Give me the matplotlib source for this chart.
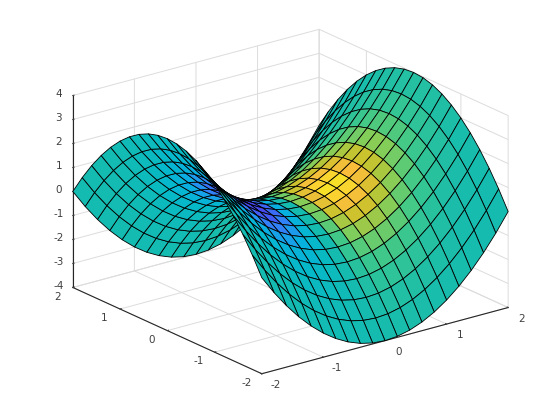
import numpy as np
import matplotlib
matplotlib.use('Agg')
import matplotlib.pyplot as plt
from matplotlib.colors import LinearSegmentedColormap, Normalize
from matplotlib.text import Text
from matplotlib.transforms import offset_copy

# grid
x_vals = [-2, -1.8, -1.6, -1.4, -1.2, -1, -0.8, -0.6, -0.4, -0.2, 0, 0.2, 0.4, 0.6, 0.8, 1, 1.2, 1.4, 1.6, 1.8, 2]
y_vals = [-2, -1.8, -1.6, -1.4, -1.2, -1, -0.8, -0.6, -0.4, -0.2, 0, 0.2, 0.4, 0.6, 0.8, 1, 1.2, 1.4, 1.6, 1.8, 2]

# surface height, one row per y value
z_rows = [
    [0, -0.76, -1.44, -2.04, -2.56, -3, -3.36, -3.64, -3.84, -3.96, -4, -3.96, -3.84, -3.64, -3.36, -3, -2.56, -2.04, -1.44, -0.76, 0],
    [0.76, 0, -0.68, -1.28, -1.8, -2.24, -2.6, -2.88, -3.08, -3.2, -3.24, -3.2, -3.08, -2.88, -2.6, -2.24, -1.8, -1.28, -0.68, 0, 0.76],
    [1.44, 0.68, 0, -0.6, -1.12, -1.56, -1.92, -2.2, -2.4, -2.52, -2.56, -2.52, -2.4, -2.2, -1.92, -1.56, -1.12, -0.6, 0, 0.68, 1.44],
    [2.04, 1.28, 0.6, 0, -0.52, -0.96, -1.32, -1.6, -1.8, -1.92, -1.96, -1.92, -1.8, -1.6, -1.32, -0.96, -0.52, 0, 0.6, 1.28, 2.04],
    [2.56, 1.8, 1.12, 0.52, 0, -0.44, -0.8, -1.08, -1.28, -1.4, -1.44, -1.4, -1.28, -1.08, -0.8, -0.44, 0, 0.52, 1.12, 1.8, 2.56],
    [3, 2.24, 1.56, 0.96, 0.44, 0, -0.36, -0.64, -0.84, -0.96, -1, -0.96, -0.84, -0.64, -0.36, 0, 0.44, 0.96, 1.56, 2.24, 3],
    [3.36, 2.6, 1.92, 1.32, 0.8, 0.36, 0, -0.28, -0.48, -0.6, -0.64, -0.6, -0.48, -0.28, 0, 0.36, 0.8, 1.32, 1.92, 2.6, 3.36],
    [3.64, 2.88, 2.2, 1.6, 1.08, 0.64, 0.28, 0, -0.2, -0.32, -0.36, -0.32, -0.2, 0, 0.28, 0.64, 1.08, 1.6, 2.2, 2.88, 3.64],
    [3.84, 3.08, 2.4, 1.8, 1.28, 0.84, 0.48, 0.2, 0, -0.12, -0.16, -0.12, 0, 0.2, 0.48, 0.84, 1.28, 1.8, 2.4, 3.08, 3.84],
    [3.96, 3.2, 2.52, 1.92, 1.4, 0.96, 0.6, 0.32, 0.12, 0, -0.04, 0, 0.12, 0.32, 0.6, 0.96, 1.4, 1.92, 2.52, 3.2, 3.96],
    [4, 3.24, 2.56, 1.96, 1.44, 1, 0.64, 0.36, 0.16, 0.04, 0, 0.04, 0.16, 0.36, 0.64, 1, 1.44, 1.96, 2.56, 3.24, 4],
    [3.96, 3.2, 2.52, 1.92, 1.4, 0.96, 0.6, 0.32, 0.12, 0, -0.04, 0, 0.12, 0.32, 0.6, 0.96, 1.4, 1.92, 2.52, 3.2, 3.96],
    [3.84, 3.08, 2.4, 1.8, 1.28, 0.84, 0.48, 0.2, 0, -0.12, -0.16, -0.12, 0, 0.2, 0.48, 0.84, 1.28, 1.8, 2.4, 3.08, 3.84],
    [3.64, 2.88, 2.2, 1.6, 1.08, 0.64, 0.28, 0, -0.2, -0.32, -0.36, -0.32, -0.2, 0, 0.28, 0.64, 1.08, 1.6, 2.2, 2.88, 3.64],
    [3.36, 2.6, 1.92, 1.32, 0.8, 0.36, 0, -0.28, -0.48, -0.6, -0.64, -0.6, -0.48, -0.28, 0, 0.36, 0.8, 1.32, 1.92, 2.6, 3.36],
    [3, 2.24, 1.56, 0.96, 0.44, 0, -0.36, -0.64, -0.84, -0.96, -1, -0.96, -0.84, -0.64, -0.36, 0, 0.44, 0.96, 1.56, 2.24, 3],
    [2.56, 1.8, 1.12, 0.52, 0, -0.44, -0.8, -1.08, -1.28, -1.4, -1.44, -1.4, -1.28, -1.08, -0.8, -0.44, 0, 0.52, 1.12, 1.8, 2.56],
    [2.04, 1.28, 0.6, 0, -0.52, -0.96, -1.32, -1.6, -1.8, -1.92, -1.96, -1.92, -1.8, -1.6, -1.32, -0.96, -0.52, 0, 0.6, 1.28, 2.04],
    [1.44, 0.68, 0, -0.6, -1.12, -1.56, -1.92, -2.2, -2.4, -2.52, -2.56, -2.52, -2.4, -2.2, -1.92, -1.56, -1.12, -0.6, 0, 0.68, 1.44],
    [0.76, 0, -0.68, -1.28, -1.8, -2.24, -2.6, -2.88, -3.08, -3.2, -3.24, -3.2, -3.08, -2.88, -2.6, -2.24, -1.8, -1.28, -0.68, 0, 0.76],
    [0, -0.76, -1.44, -2.04, -2.56, -3, -3.36, -3.64, -3.84, -3.96, -4, -3.96, -3.84, -3.64, -3.36, -3, -2.56, -2.04, -1.44, -0.76, 0],
]

# colour value of each cell corner
c_rows = [
    [-0.001, -0.001, -0.002, -0.004, -0.005, -0.007, -0.008, -0.008, -0.006, -0.004, 0, 0.004, 0.006, 0.008, 0.008, 0.007, 0.005, 0.004, 0.002, 0.001, 0.001],
    [-0.001, -0.003, -0.005, -0.008, -0.011, -0.014, -0.017, -0.016, -0.013, -0.008, 0, 0.008, 0.013, 0.016, 0.017, 0.014, 0.011, 0.008, 0.005, 0.003, 0.001],
    [-0.003, -0.005, -0.010, -0.015, -0.022, -0.028, -0.033, -0.032, -0.026, -0.015, 0, 0.015, 0.026, 0.032, 0.033, 0.028, 0.022, 0.015, 0.010, 0.005, 0.003],
    [-0.005, -0.010, -0.017, -0.028, -0.040, -0.052, -0.059, -0.059, -0.048, -0.027, 0, 0.027, 0.048, 0.059, 0.059, 0.052, 0.040, 0.028, 0.017, 0.010, 0.005],
    [-0.009, -0.017, -0.029, -0.047, -0.067, -0.087, -0.100, -0.099, -0.081, -0.046, 0, 0.046, 0.081, 0.099, 0.100, 0.087, 0.067, 0.047, 0.029, 0.017, 0.009],
    [-0.013, -0.026, -0.046, -0.073, -0.105, -0.135, -0.155, -0.154, -0.125, -0.071, 0, 0.071, 0.125, 0.154, 0.155, 0.135, 0.105, 0.073, 0.046, 0.026, 0.013],
    [-0.019, -0.037, -0.065, -0.104, -0.150, -0.194, -0.222, -0.221, -0.180, -0.101, 0, 0.101, 0.180, 0.221, 0.222, 0.194, 0.150, 0.104, 0.065, 0.037, 0.019],
    [-0.026, -0.049, -0.086, -0.138, -0.198, -0.257, -0.294, -0.292, -0.238, -0.134, 0, 0.134, 0.238, 0.292, 0.294, 0.257, 0.198, 0.138, 0.086, 0.049, 0.026],
    [-0.031, -0.060, -0.105, -0.168, -0.242, -0.313, -0.359, -0.357, -0.290, -0.164, 0, 0.164, 0.290, 0.357, 0.359, 0.313, 0.242, 0.168, 0.105, 0.060, 0.031],
    [-0.035, -0.068, -0.119, -0.190, -0.273, -0.353, -0.405, -0.402, -0.328, -0.185, 0, 0.185, 0.328, 0.402, 0.405, 0.353, 0.273, 0.190, 0.119, 0.068, 0.035],
    [-0.037, -0.071, -0.124, -0.197, -0.284, -0.368, -0.422, -0.419, -0.341, -0.192, 0, 0.192, 0.341, 0.419, 0.422, 0.368, 0.284, 0.197, 0.124, 0.071, 0.037],
    [-0.035, -0.068, -0.119, -0.190, -0.273, -0.353, -0.405, -0.402, -0.328, -0.185, 0, 0.185, 0.328, 0.402, 0.405, 0.353, 0.273, 0.190, 0.119, 0.068, 0.035],
    [-0.031, -0.060, -0.105, -0.168, -0.242, -0.313, -0.359, -0.357, -0.290, -0.164, 0, 0.164, 0.290, 0.357, 0.359, 0.313, 0.242, 0.168, 0.105, 0.060, 0.031],
    [-0.026, -0.049, -0.086, -0.138, -0.198, -0.257, -0.294, -0.292, -0.238, -0.134, 0, 0.134, 0.238, 0.292, 0.294, 0.257, 0.198, 0.138, 0.086, 0.049, 0.026],
    [-0.019, -0.037, -0.065, -0.104, -0.150, -0.194, -0.222, -0.221, -0.180, -0.101, 0, 0.101, 0.180, 0.221, 0.222, 0.194, 0.150, 0.104, 0.065, 0.037, 0.019],
    [-0.013, -0.026, -0.046, -0.073, -0.105, -0.135, -0.155, -0.154, -0.125, -0.071, 0, 0.071, 0.125, 0.154, 0.155, 0.135, 0.105, 0.073, 0.046, 0.026, 0.013],
    [-0.009, -0.017, -0.029, -0.047, -0.067, -0.087, -0.100, -0.099, -0.081, -0.046, 0, 0.046, 0.081, 0.099, 0.100, 0.087, 0.067, 0.047, 0.029, 0.017, 0.009],
    [-0.005, -0.010, -0.017, -0.028, -0.040, -0.052, -0.059, -0.059, -0.048, -0.027, 0, 0.027, 0.048, 0.059, 0.059, 0.052, 0.040, 0.028, 0.017, 0.010, 0.005],
    [-0.003, -0.005, -0.010, -0.015, -0.022, -0.028, -0.033, -0.032, -0.026, -0.015, 0, 0.015, 0.026, 0.032, 0.033, 0.028, 0.022, 0.015, 0.010, 0.005, 0.003],
    [-0.001, -0.003, -0.005, -0.008, -0.011, -0.014, -0.017, -0.016, -0.013, -0.008, 0, 0.008, 0.013, 0.016, 0.017, 0.014, 0.011, 0.008, 0.005, 0.003, 0.001],
    [-0.001, -0.001, -0.002, -0.004, -0.005, -0.007, -0.008, -0.008, -0.006, -0.004, 0, 0.004, 0.006, 0.008, 0.008, 0.007, 0.005, 0.004, 0.002, 0.001, 0.001],
]

xy_ticks = [-2, -1, 0, 1, 2]
z_ticks = [-4, -3, -2, -1, 0, 1, 2, 3, 4]

# parula-like colour stops
stops = [(0.0, '#3e26a8'), (0.05, '#4444eb'), (0.1, '#4852f4'), (0.2, '#2e87f7'), (0.3, '#07b1e0'), (0.4, '#06b9c8'),
         (0.5, '#14bbb0'), (0.6, '#3cc88c'), (0.7, '#82cd5a'), (0.8, '#c8c32d'), (0.9, '#febe3c'),
         (0.95, '#f7e128'), (1.0, '#f9fb15')]
parula = LinearSegmentedColormap.from_list('parula', stops)

plt.rcParams['axes.unicode_minus'] = False
plt.rcParams['font.size'] = 7.5
plt.rcParams['grid.color'] = '#dcdcdc'
plt.rcParams['grid.linewidth'] = 0.7

fig = plt.figure(figsize=(5.6, 4.2), dpi=100)
ax = fig.add_axes([4.8 / 560, 2.8 / 420, 1, 1], projection='3d')
ax.set_proj_type('ortho')
ax.view_init(elev=20.5, azim=-127.5)
ax.set_box_aspect((1, 1, 0.66), zoom=1.12)

X, Y = np.meshgrid(x_vals, y_vals)
Z = np.array(z_rows)
C = np.array(c_rows)
norm = Normalize(-0.47, 0.47)
# each cell takes the colour of its far corner
surf = ax.plot_surface(X, Y, Z, facecolors=parula(norm(C[1:, 1:])), rstride=1, cstride=1, shade=False,
                       edgecolor='black', linewidth=0.6)
surf.set_clip_on(False)

ax.set_xlim(-2, 2, view_margin=0)
ax.set_ylim(-2, 2, view_margin=0)
ax.set_zlim(-4, 4, view_margin=0)
ax.set_xticks(xy_ticks)
ax.set_yticks(xy_ticks)
ax.set_zticks(z_ticks)

for axis in (ax.xaxis, ax.yaxis, ax.zaxis):
    axis.set_pane_color((1, 1, 1, 0))
    axis.pane.set_edgecolor('#dcdcdc')
    axis.line.set_color('#262626')
    axis.line.set_linewidth(0.8)
    axis.set_tick_params(colors='#404040', pad=0)
    axis._axinfo['tick']['inward_factor'] = 0.0
    axis._axinfo['tick']['outward_factor'] = 0.06
ax.zaxis.set_ticks_position('upper')

# mplot3d resets the label transform on every draw, so keep the pixel offset in there
def nudge(label, dx, dy):
    def set_transform(t):
        Text.set_transform(label, offset_copy(t, fig=fig, x=dx, y=dy, units='dots'))
    label.set_transform = set_transform

for axis, dx, dy in ((ax.xaxis, 4, 8), (ax.yaxis, -3, 9), (ax.zaxis, 8, 5)):
    for tick in axis.get_major_ticks():
        nudge(tick.label1, dx, dy)

fig.savefig('out.png', dpi=100)
